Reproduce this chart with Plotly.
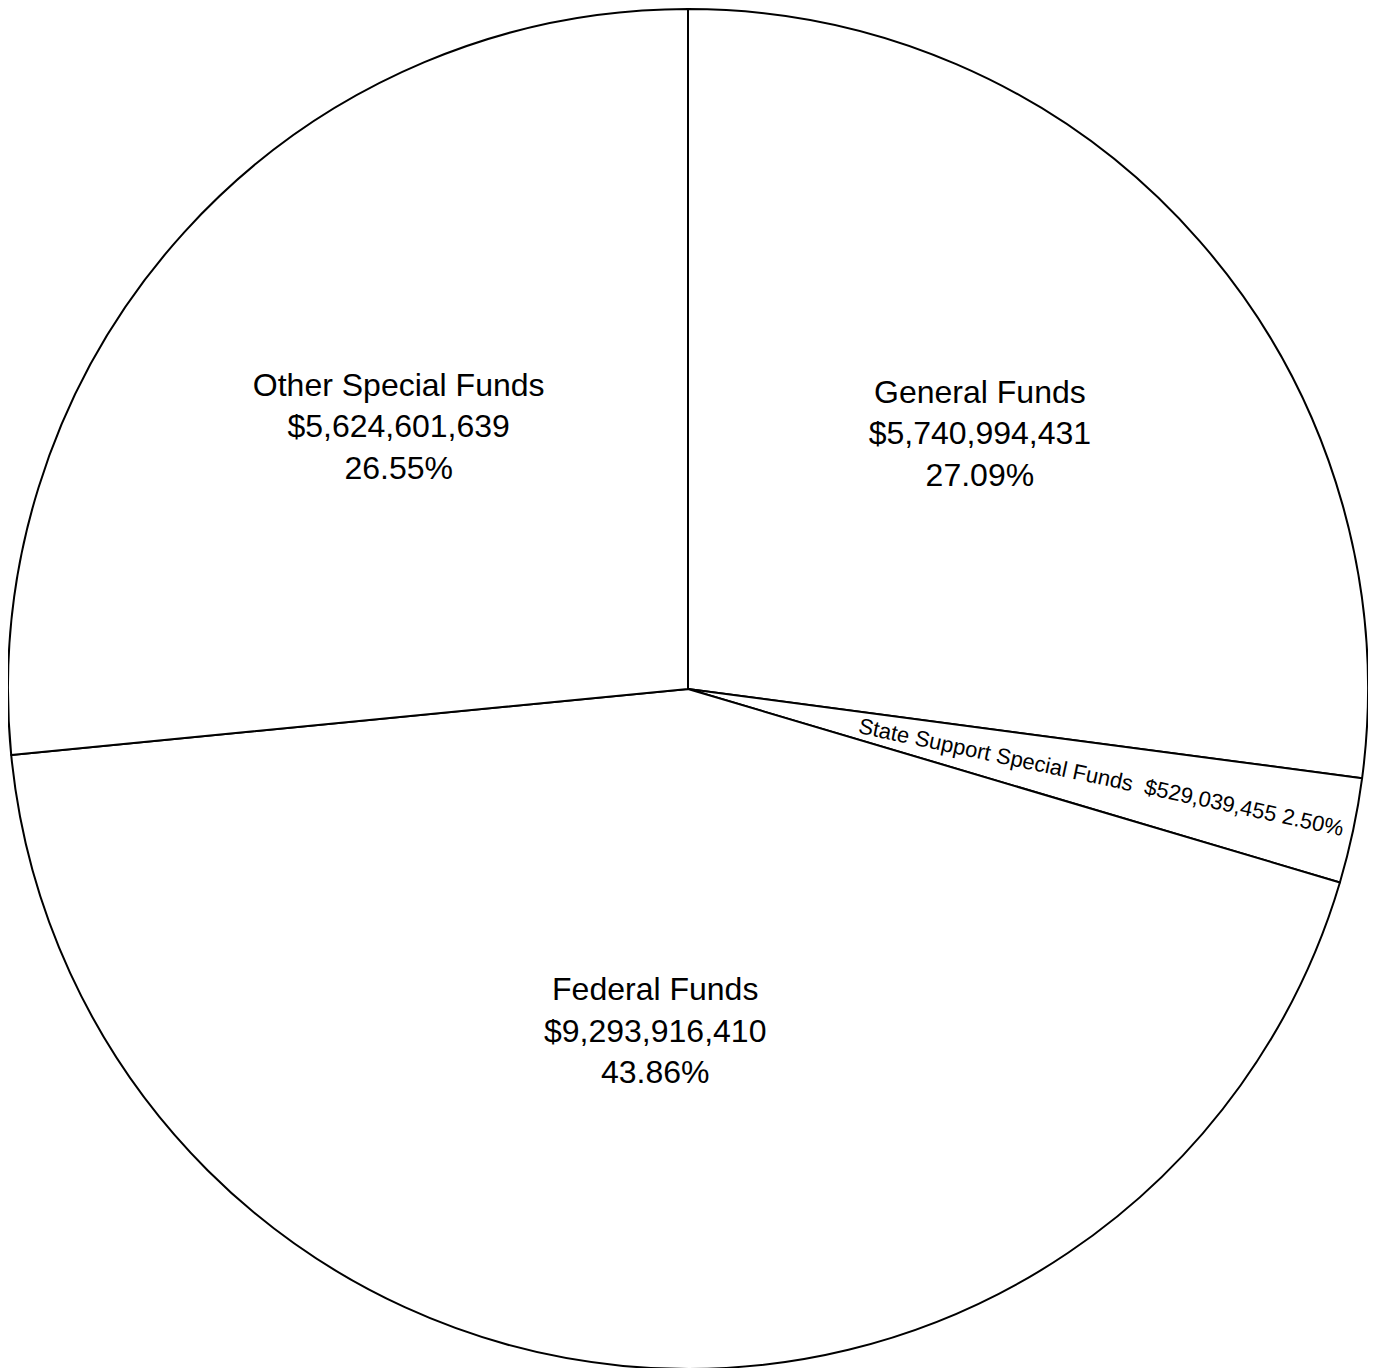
import plotly.graph_objects as go

labels = ["General Funds", "State Support Special Funds", "Federal Funds", "Other Special Funds"]
values = [5740994431, 529039455, 9293916410, 5624601639]
pct_text = ["27.09%", "2.50%", "43.86%", "26.55%"]
amount_text = ["$5,740,994,431", "$529,039,455", "$9,293,916,410", "$5,624,601,639"]

texts = []
for i, (l, a, p) in enumerate(zip(labels, amount_text, pct_text)):
    if i == 1:
        texts.append(f"{l}  {a} {p}")
    else:
        texts.append(f"{l}<br>{a}<br>{p}")

fig = go.Figure(go.Pie(
    labels=labels,
    values=values,
    text=texts,
    textinfo="text",
    textposition="inside",
    insidetextorientation="auto",
    sort=False,
    direction="clockwise",
    rotation=0,
    marker=dict(colors=["white"] * 4, line=dict(color="black", width=2)),
    insidetextfont=dict(family="Liberation Sans, Arial, sans-serif", size=[32, 22, 32, 32], color="black"),
    hoverinfo="label+value+percent",
    showlegend=False,
))

fig.update_layout(
    width=1360,
    height=1362,
    margin=dict(l=0, r=0, t=0, b=0),
    paper_bgcolor="white",
    plot_bgcolor="white",
    showlegend=False,
)

fig.write_html("out.html")
